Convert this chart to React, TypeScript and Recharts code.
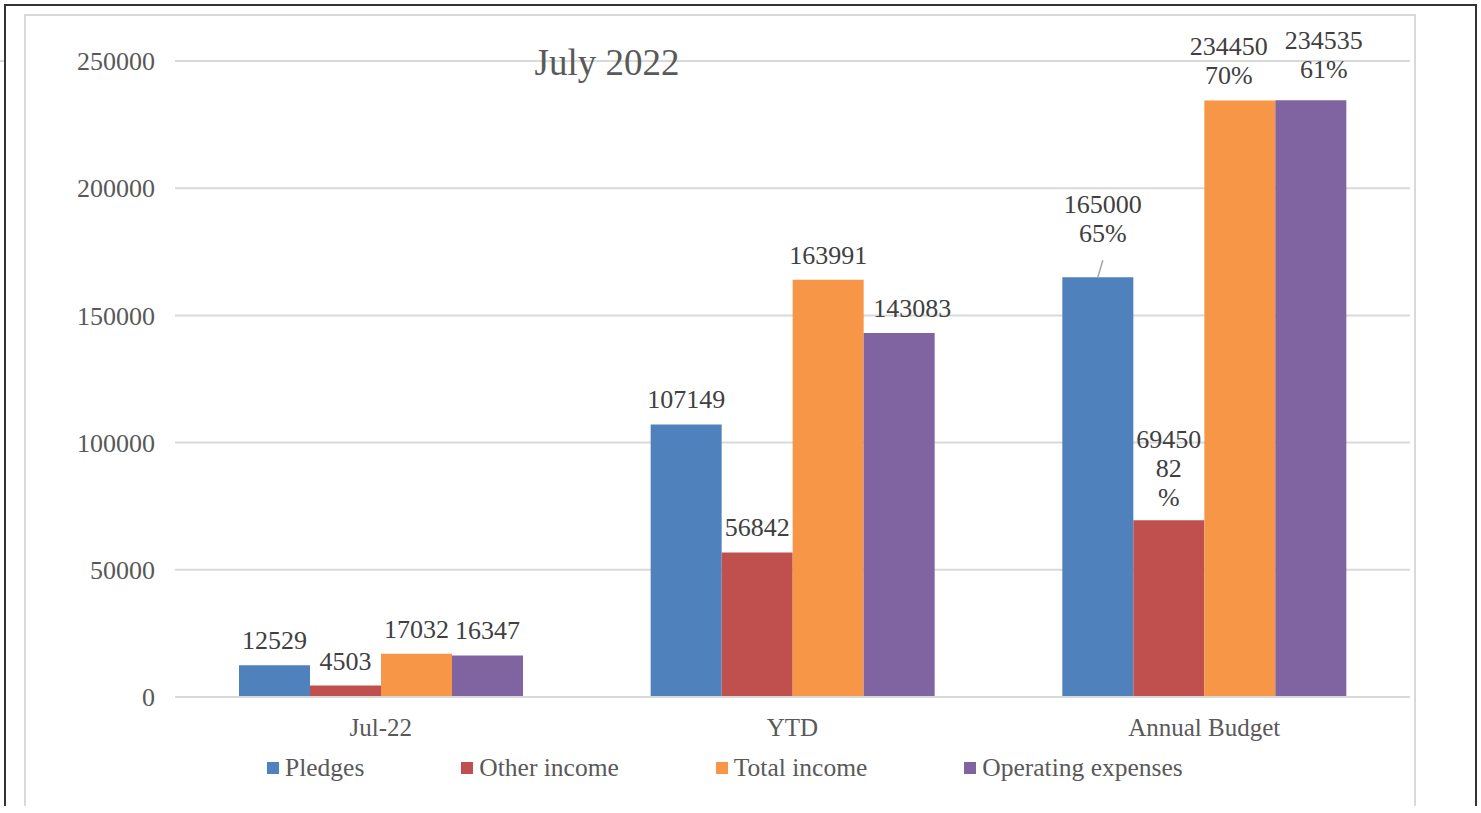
import React from "react";
import { BarChart, Bar, XAxis, YAxis, CartesianGrid, Legend, LabelList } from "recharts";

const categories = ["Jul-22", "YTD", "Annual Budget"];
const pledges = [12529, 107149, 165000];
const otherIncome = [4503, 56842, 69450];
const totalIncome = [17032, 163991, 234450];
const operatingExpenses = [16347, 143083, 234535];
const pledgesPct = ["", "", "65%"];
const otherIncomePct = ["", "", "82%"];
const totalIncomePct = ["", "", "70%"];
const operatingExpensesPct = ["", "", "61%"];
const yTicks = [0, 50000, 100000, 150000, 200000, 250000];
const seriesNames = ["Pledges", "Other income", "Total income", "Operating expenses"];
const titleText = "July 2022";

const data = categories.map((c, i) => ({
  category: c,
  pledges: pledges[i],
  otherIncome: otherIncome[i],
  totalIncome: totalIncome[i],
  operatingExpenses: operatingExpenses[i],
}));

const FONT = "'Liberation Serif', 'Times New Roman', serif";
const TEXT = "#595959";
const LABEL = "#404040";

// label styling per series (placement tweaks only)
const labelStyle: Record<string, { pct: string[]; dx: number[]; lift: number; leader?: boolean; split?: boolean }> = {
  pledges: { pct: pledgesPct, dx: [0, 0, 5], lift: 43, leader: true },
  otherIncome: { pct: otherIncomePct, dx: [0, 0, 0], lift: 22, split: true },
  totalIncome: { pct: totalIncomePct, dx: [0, 0, -11], lift: 25 },
  operatingExpenses: { pct: operatingExpensesPct, dx: [0, 13, 13], lift: 30 },
};

const makeLabel = (key: string) => (props: any) => {
  const { x, y, width, value, index } = props;
  const st = labelStyle[key];
  const pct = st.pct[index];
  const barCx = Number(x) + Number(width) / 2;
  const cx = barCx + (st.dx[index] || 0);
  const top = Number(y);
  if (!pct) {
    return (
      <text x={cx} y={top - 16} textAnchor="middle" fill={LABEL} fontSize={26} fontFamily={FONT}>
        {value}
      </text>
    );
  }
  const lines = [String(value)];
  if (st.split) {
    lines.push(pct.replace("%", ""), "%");
  } else {
    lines.push(pct);
  }
  const lastBase = top - st.lift + 8;
  const lh = 29;
  return (
    <g>
      {st.leader && (
        <line x1={barCx} y1={top} x2={cx} y2={top - 17} stroke="#a6a6a6" strokeWidth={1.5} />
      )}
      <text textAnchor="middle" fill={LABEL} fontSize={26} fontFamily={FONT}>
        {lines.map((l, i) => (
          <tspan key={i} x={cx} y={lastBase - (lines.length - 1 - i) * lh}>
            {l}
          </tspan>
        ))}
      </text>
    </g>
  );
};

const colors = ["#4F81BD", "#C0504D", "#F79646", "#8064A2"];
const keys = ["pledges", "otherIncome", "totalIncome", "operatingExpenses"];

const renderLegend = () => (
  <div
    style={{
      display: "flex",
      alignItems: "center",
      height: 30,
      marginLeft: 267,
      fontFamily: FONT,
      fontSize: 25.5,
      color: TEXT,
      whiteSpace: "nowrap",
    }}
  >
    {seriesNames.map((n, i) => (
      <div key={n} style={{ display: "flex", alignItems: "center", marginRight: 97 }}>
        <div style={{ width: 12, height: 12, background: colors[i], marginRight: 6 }} />
        <span>{n}</span>
      </div>
    ))}
  </div>
);

export default function App() {
  return (
    <div style={{ position: "absolute", left: 0, top: 0, width: 1481, height: 813, background: "#fff", overflow: "hidden" }}>
      <div style={{ position: "absolute", left: 0, top: 60, width: 5, height: 2, background: "#d9d9d9" }} />
      <div
        style={{
          position: "absolute",
          left: 4,
          top: 4,
          width: 1469,
          height: 800,
          borderTop: "2px solid #333",
          borderLeft: "2px solid #333",
          borderRight: "2px solid #333",
        }}
      />
      <div
        style={{
          position: "absolute",
          left: 24,
          top: 14,
          width: 1388,
          height: 790,
          borderTop: "2px solid #d9d9d9",
          borderLeft: "2px solid #d9d9d9",
          borderRight: "2px solid #d9d9d9",
        }}
      />
      <div style={{ position: "absolute", left: 0, top: 0 }}>
        <BarChart
          width={1481}
          height={813}
          data={data}
          margin={{ top: 61, right: 71, bottom: 30, left: 0 }}
          barGap={0}
        >
          <CartesianGrid vertical={false} stroke="#d9d9d9" strokeWidth={2} />
          <XAxis
            dataKey="category"
            height={56}
            tickLine={false}
            tickSize={0}
            tickMargin={21}
            axisLine={{ stroke: "#d9d9d9", strokeWidth: 2 }}
            tick={{ fill: TEXT, fontSize: 25, fontFamily: FONT }}
          />
          <YAxis
            width={175}
            domain={[0, 250000]}
            ticks={yTicks}
            axisLine={false}
            tickLine={false}
            tickSize={0}
            tickMargin={20}
            tick={{ fill: TEXT, fontSize: 26, fontFamily: FONT }}
          />
          <Legend verticalAlign="bottom" content={renderLegend} />
          {keys.map((k, i) => (
            <Bar key={k} dataKey={k} name={seriesNames[i]} fill={colors[i]} barSize={71} isAnimationActive={false}>
              <LabelList dataKey={k} content={makeLabel(k)} />
            </Bar>
          ))}
        </BarChart>
      </div>
      <svg style={{ position: "absolute", left: 0, top: 0, pointerEvents: "none" }} width={1481} height={813}>
        <text x={607} y={75} textAnchor="middle" fill={TEXT} fontSize={37} fontFamily={FONT}>
          {titleText}
        </text>
      </svg>
    </div>
  );
}
